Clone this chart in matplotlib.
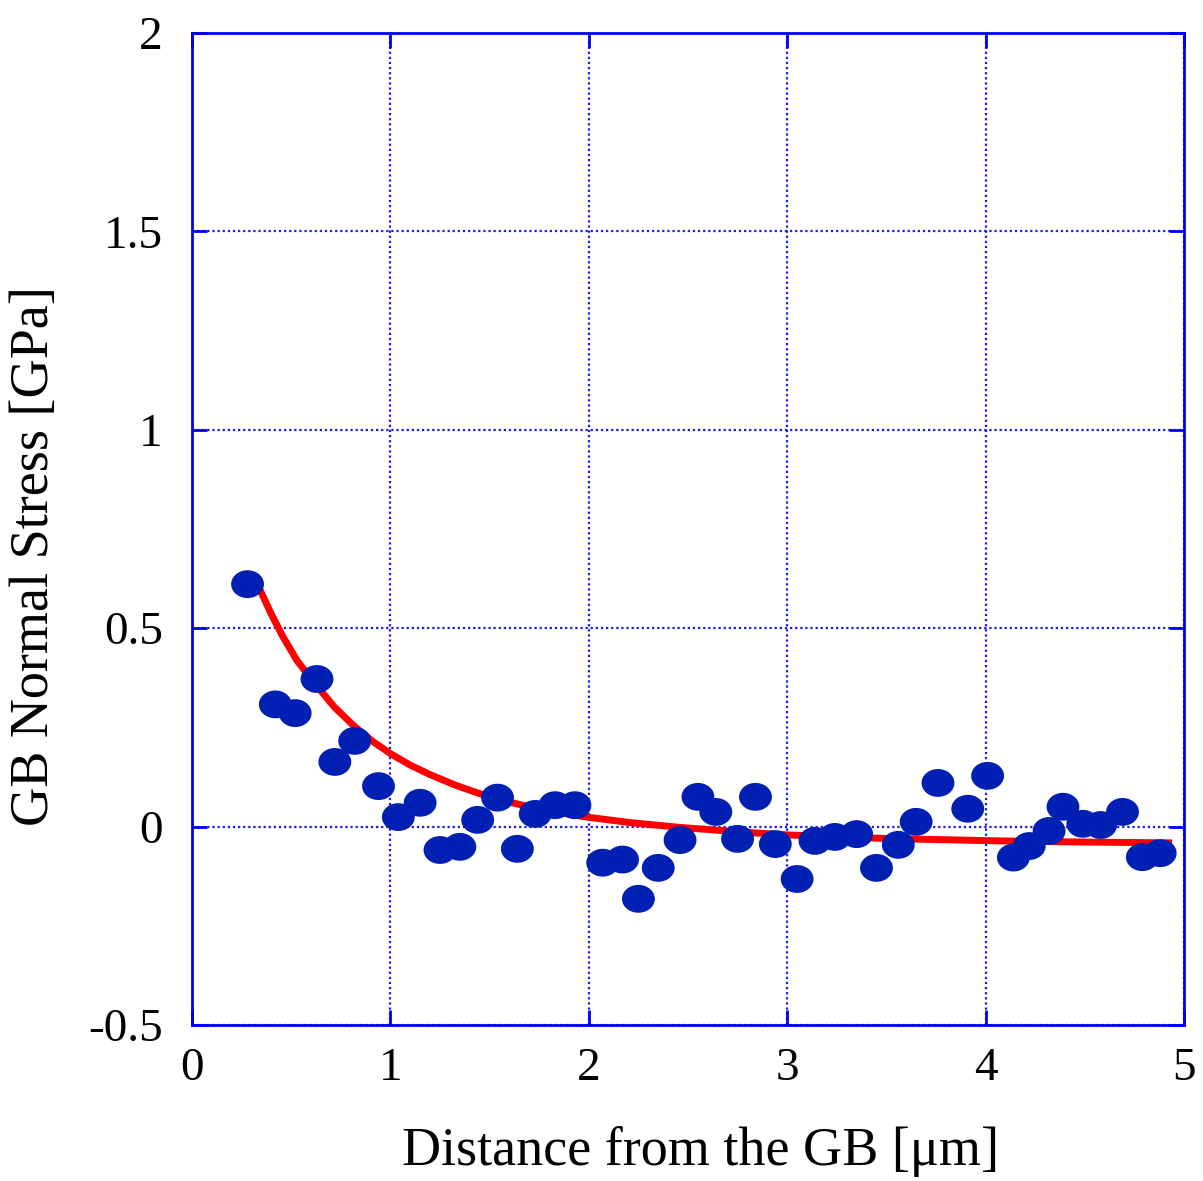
import numpy as np
import matplotlib
matplotlib.use("Agg")
import matplotlib.pyplot as plt
from matplotlib.path import Path

# Measured stress profile
distance_um = [0.28, 0.42, 0.52, 0.63, 0.72, 0.82, 0.94, 1.04, 1.15, 1.25,
               1.35, 1.44, 1.54, 1.64, 1.73, 1.83, 1.93, 2.07, 2.17, 2.25,
               2.35, 2.46, 2.55, 2.64, 2.75, 2.84, 2.94, 3.05, 3.14, 3.24,
               3.35, 3.45, 3.56, 3.65, 3.76, 3.91, 4.01, 4.14, 4.22, 4.32,
               4.39, 4.49, 4.58, 4.69, 4.79, 4.88]
stress_gpa = [0.611, 0.308, 0.286, 0.372, 0.163, 0.216, 0.102, 0.024, 0.060, -0.059,
              -0.051, 0.017, 0.073, -0.056, 0.032, 0.054, 0.054, -0.091, -0.083, -0.182,
              -0.104, -0.034, 0.075, 0.037, -0.031, 0.075, -0.044, -0.132, -0.036, -0.026,
              -0.019, -0.104, -0.046, 0.012, 0.110, 0.045, 0.128, -0.078, -0.049, -0.011,
              0.050, 0.007, 0.004, 0.037, -0.077, -0.067]

# Fitted decay curve
fit_x = [0.34, 0.40, 0.46, 0.53, 0.62, 0.72, 0.82, 0.91, 1.0, 1.1, 1.2, 1.33, 1.45,
         1.58, 1.7, 1.85, 1.99, 2.21, 2.46, 2.75, 3.0, 3.5, 4.07, 4.5, 4.94]
fit_y = [0.600, 0.535, 0.477, 0.418, 0.360, 0.300, 0.252, 0.215, 0.184, 0.155, 0.131,
         0.104, 0.083, 0.064, 0.050, 0.035, 0.024, 0.010, -0.002, -0.013, -0.021,
         -0.030, -0.036, -0.039, -0.041]

x_ticks = [0, 1, 2, 3, 4, 5]
y_ticks = [-0.5, 0, 0.5, 1, 1.5, 2]
y_tick_labels = ["-0.5", "0", "0.5", "1", "1.5", "2"]

plt.rcParams['font.family'] = ['Liberation Serif', 'DejaVu Serif']

fig = plt.figure(figsize=(12.03, 11.81), dpi=100)
ax = fig.add_axes([192 / 1203, 1 - 1025 / 1181, 992 / 1203, 992 / 1181])

blue = '#0000ee'
dot_color = '#0020b4'

# slightly wide elliptical marker
t = np.linspace(0, 2 * np.pi, 60)
ellipse = Path(np.column_stack([1.18 * np.cos(t), np.sin(t)]), closed=True)

ax.plot(fit_x, fit_y, color='#ff0000', lw=5, solid_capstyle='butt',
        solid_joinstyle='round', zorder=3)
ax.scatter(distance_um, stress_gpa, marker=ellipse, s=560, color=dot_color,
           edgecolors='none', zorder=4)

ax.set_xlim(0, 5)
ax.set_ylim(-0.5, 2)
ax.set_xticks(x_ticks)
ax.set_yticks(y_ticks)
ax.set_yticklabels(y_tick_labels)

ax.grid(True, color=blue, linestyle=(0, (1, 1.3)), linewidth=1.6, alpha=0.9)
for s in ax.spines.values():
    s.set_color(blue)
    s.set_linewidth(2)

ax.tick_params(axis='both', direction='in', length=11, width=2, color=blue,
               top=True, right=True, labelsize=34, labelcolor='black')
ax.tick_params(axis='x', pad=16)
ax.tick_params(axis='y', pad=21)

ax.set_xlabel('Distance from the GB [μm]', fontsize=39, labelpad=26)
ax.set_ylabel('GB Normal Stress [GPa]', fontsize=39, labelpad=20)
ax.xaxis.label.set_x(0.513)
ax.yaxis.label.set_y(0.473)

fig.savefig('out.png', dpi=100, facecolor='white')
